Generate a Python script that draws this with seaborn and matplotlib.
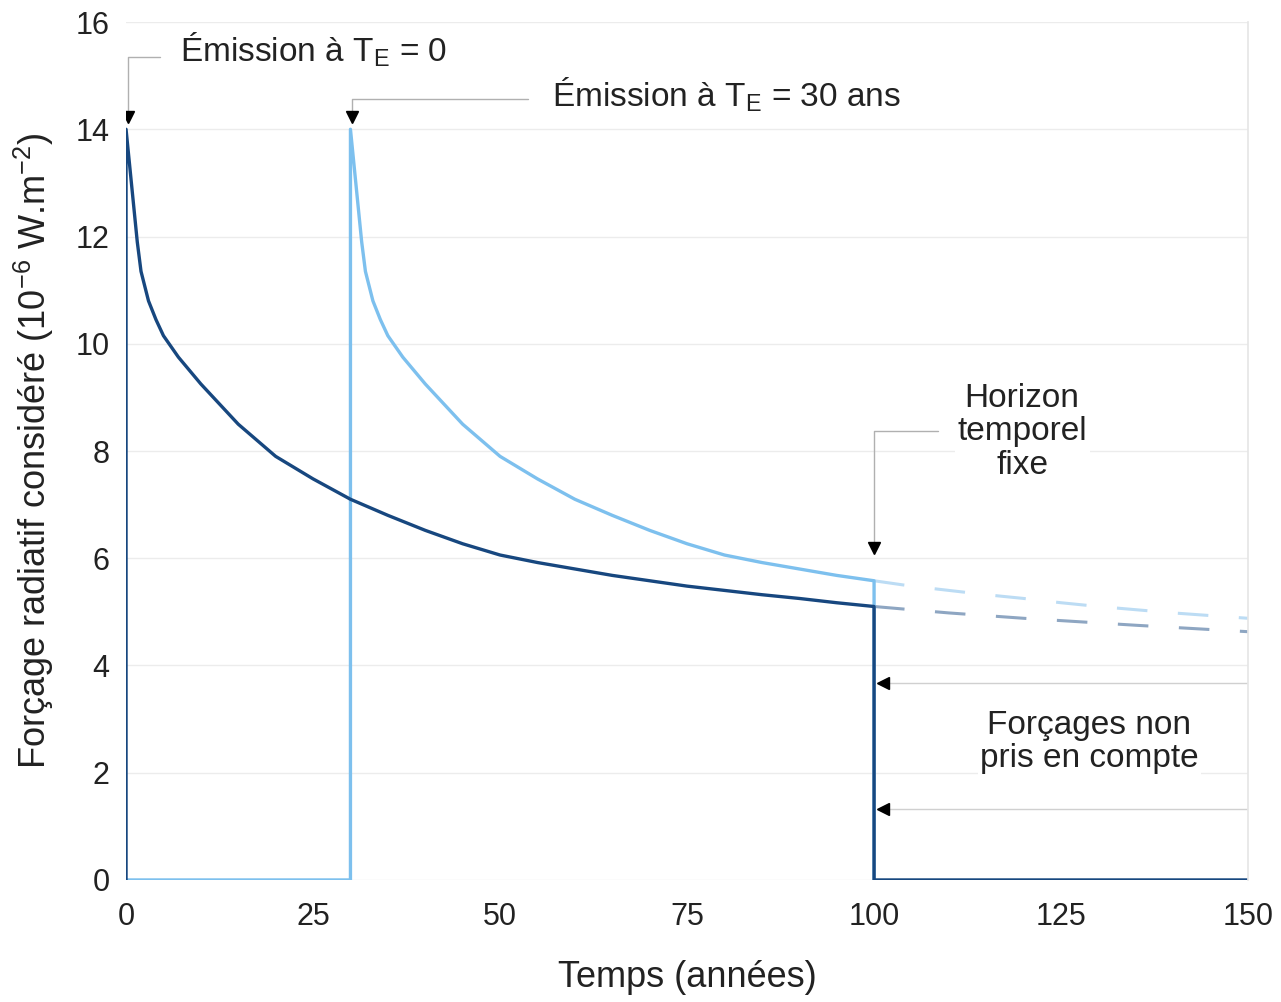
import numpy as np
import pandas as pd
import seaborn as sns
import matplotlib.pyplot as plt

# decay profile of the forcing after one emission
age = [0, 0.5, 1, 1.5, 2, 3, 4, 5, 7, 10, 15, 20, 25, 30, 35, 40, 45, 50, 55, 60, 65,
       70, 75, 80, 85, 90, 95, 100, 110, 120, 135, 150]
forcing = [14.0, 13.3, 12.6, 11.9, 11.35, 10.8, 10.45, 10.15, 9.75, 9.25, 8.5, 7.9,
           7.48, 7.1, 6.8, 6.52, 6.27, 6.06, 5.92, 5.8, 5.68, 5.58, 5.48, 5.4, 5.32,
           5.25, 5.17, 5.1, 4.98, 4.88, 4.75, 4.63]

emission_times = [0, 30]
horizon = 100
t_end = 150

dark = "#17477f"
light = "#7dc0ee"
dark_faded = "#8ea6c2"
light_faded = "#bcdcf4"

sns.set_theme(style="white")
plt.rcParams["font.family"] = ["Liberation Sans", "DejaVu Sans"]
plt.rcParams["mathtext.fontset"] = "custom"
plt.rcParams["mathtext.rm"] = "Liberation Sans"

age = np.array(age)
forcing = np.array(forcing)


def series(te):
    # solid part: zero until emission, decay until horizon, then drop to zero
    keep = te + age <= horizon
    t = [0, te] + list(te + age[keep]) + [horizon]
    v = [0, 0] + list(forcing[keep]) + [0]
    if te == 0:
        t = t[1:] + [t_end]
        v = v[1:] + [0]
    # dashed part: beyond the horizon
    keep2 = (te + age >= horizon) & (te + age <= t_end)
    td = list(te + age[keep2])
    vd = list(forcing[keep2])
    return pd.DataFrame({"t": t, "v": v}), pd.DataFrame({"t": td, "v": vd})


fig = plt.figure(figsize=(12.81, 10.02), dpi=100)
ax = fig.add_axes([0.0984, 0.1218, 0.8759, 0.8562])

sol0, dash0 = series(emission_times[0])
sol30, dash30 = series(emission_times[1])

sns.lineplot(data=dash30, x="t", y="v", color=light_faded, lw=2.2, ax=ax,
             estimator=None, sort=False).lines[-1].set_dashes((10, 10))
sns.lineplot(data=dash0, x="t", y="v", color=dark_faded, lw=2.2, ax=ax,
             estimator=None, sort=False).lines[-1].set_dashes((10, 10))
sns.lineplot(data=sol30, x="t", y="v", color=light, lw=2.4, ax=ax,
             estimator=None, sort=False)
sns.lineplot(data=sol0, x="t", y="v", color=dark, lw=2.4, ax=ax,
             estimator=None, sort=False)

# annotation connectors and arrowheads
gray = "#b0b0b0"
ax.plot([4.5, 0.25, 0.25], [15.35, 15.35, 14.3], color=gray, lw=1)
ax.plot([53.7, 30.2, 30.2], [14.57, 14.57, 14.3], color=gray, lw=1)
ax.plot([108.6, 100, 100], [8.38, 8.38, 6.3], color=gray, lw=1)
ax.plot([100.5, 150], [3.67, 3.67], color="#d0d0d0", lw=1)
ax.plot([100.5, 150], [1.32, 1.32], color="#d0d0d0", lw=1)
ax.plot([0.25, 30.2], [14.22, 14.22], "v", color="black", ms=9, ls="none")
ax.plot([100], [6.2], "v", color="black", ms=9)
ax.plot([101.2, 101.2], [3.67, 1.32], "<", color="black", ms=9, ls="none")

box = dict(facecolor="white", edgecolor="none", pad=2)
ax.text(25.0, 15.49, "Émission à T$_{\\mathregular{E}}$ = 0", ha="center", va="center",
        fontsize=24, color="#222222", bbox=box)
ax.text(80.3, 14.65, "Émission à T$_{\\mathregular{E}}$ = 30 ans", ha="center", va="center",
        fontsize=24, color="#222222", bbox=box)
ax.text(119.8, 8.36, "Horizon\ntemporel\nfixe", ha="center", va="center",
        fontsize=24, color="#222222", linespacing=1.1, bbox=box)
ax.text(128.8, 2.57, "Forçages non\npris en compte", ha="center", va="center",
        fontsize=24, color="#222222", linespacing=1.1, bbox=box)

ax.set_xlim(0, 150)
ax.set_ylim(0, 16)
ax.set_xticks([0, 25, 50, 75, 100, 125, 150])
ax.set_yticks(range(0, 17, 2))
ax.grid(axis="y", color="#ececec", lw=1)
ax.set_axisbelow(True)
for s in ["left", "top", "bottom"]:
    ax.spines[s].set_visible(False)
ax.spines["right"].set_color("#e6e6e6")
ax.tick_params(axis="x", labelsize=22, pad=16, length=0, colors="#222222")
ax.tick_params(axis="y", labelsize=22, pad=12, length=0, colors="#222222")
ax.set_xlabel("Temps (années)", fontsize=26, labelpad=20, color="#222222")
ax.set_ylabel("Forçage radiatif considéré (10$^{\\mathregular{-6}}$ W.m$^{\\mathregular{-2}}$)",
              fontsize=26, labelpad=14, color="#222222")

fig.savefig("out.png", dpi=100, facecolor="white")
